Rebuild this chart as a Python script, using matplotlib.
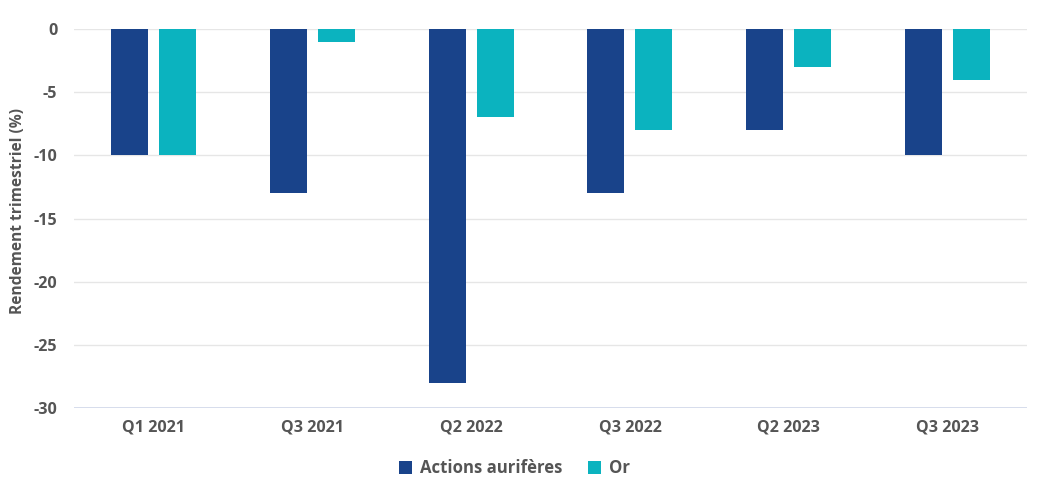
import matplotlib
matplotlib.use("Agg")
import matplotlib.pyplot as plt
import numpy as np

plt.rcParams["font.family"] = ["Open Sans", "DejaVu Sans"]

categories = ["Q1 2021", "Q3 2021", "Q2 2022", "Q3 2022", "Q2 2023", "Q3 2023"]
actions = [-10, -13, -28, -13, -8, -10]
gold = [-10, -1, -7, -8, -3, -4]
series_names = ["Actions aurifères", "Or"]
yticks = [0, -5, -10, -15, -20, -25, -30]

NAVY = "#19438a"
TEAL = "#0bb3bf"
TXT = "#555555"

fig = plt.figure(figsize=(10.41, 4.94), dpi=100)
ax = fig.add_axes([0.0711, 0.174, 0.9155, 0.7673])

x = np.arange(len(categories))
w = 0.233
off = 0.151
ax.bar(x - off, actions, width=w, color=NAVY, label=series_names[0], zorder=3)
ax.bar(x + off, gold, width=w, color=TEAL, label=series_names[1], zorder=3)

ax.set_xlim(-0.5, len(categories) - 0.5)
ax.set_ylim(-30, 0)
ax.set_yticks(yticks)
ax.set_yticklabels([str(v) for v in yticks])
ax.set_xticks(x)
ax.set_xticklabels(categories)
ax.grid(True, axis="y", color="#e6e6e6", linewidth=1, zorder=0)
ax.axhline(-30, color="#ccd6eb", linewidth=1.2, zorder=1)
for s in ax.spines.values():
    s.set_visible(False)
ax.tick_params(axis="both", length=0, labelsize=11.6, labelcolor=TXT)
ax.tick_params(axis="y", pad=12)
ax.tick_params(axis="x", pad=8)
for lbl in ax.get_xticklabels() + ax.get_yticklabels():
    lbl.set_fontweight("bold")

ax.set_ylabel("Rendement trimestriel (%)", fontsize=11.2, color=TXT,
              fontweight="bold")
ax.yaxis.set_label_coords(-0.05, 0.52)

leg = fig.legend(loc="center", bbox_to_anchor=(0.494, 0.052), ncol=2, frameon=False,
                 handlelength=0.8, handleheight=0.8, handletextpad=0.45,
                 columnspacing=1.5, prop={"size": 12.1, "weight": "bold"})
for t in leg.get_texts():
    t.set_color(TXT)

fig.savefig("out.png", dpi=100)
